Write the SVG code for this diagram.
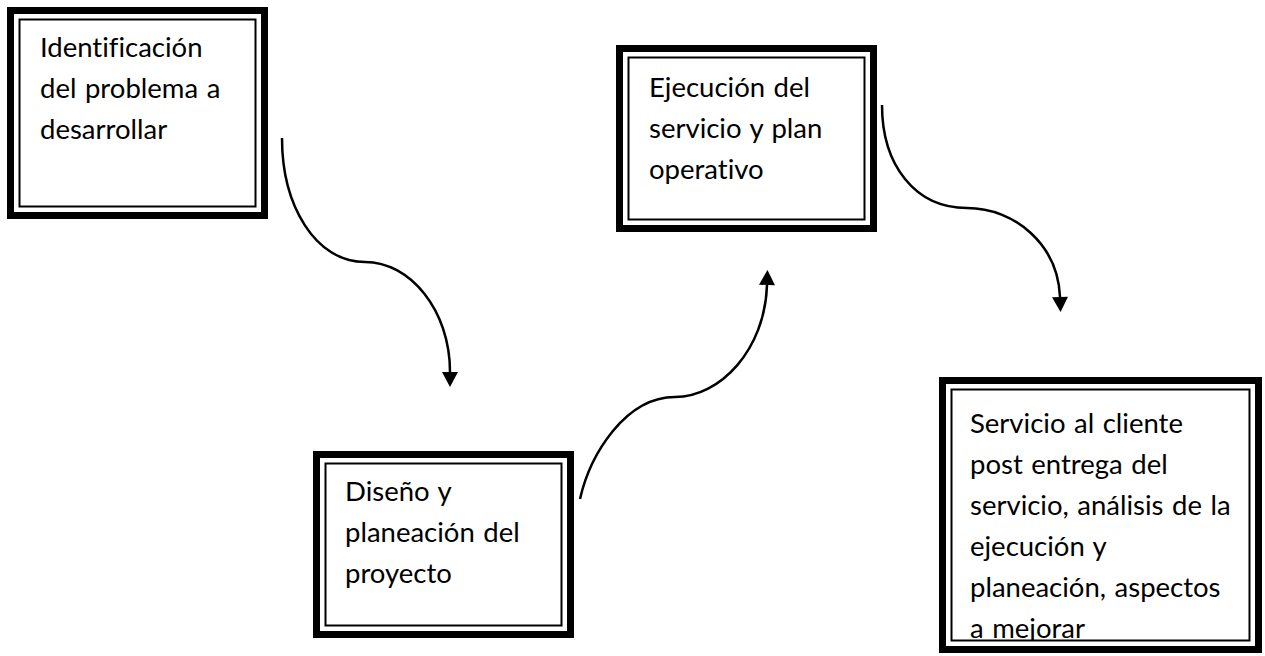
<svg xmlns="http://www.w3.org/2000/svg" width="1265" height="656" viewBox="0 0 1265 656">
<defs>
<style>
.outer{fill:#fff;stroke:#000;stroke-width:7}
.inner{fill:none;stroke:#000;stroke-width:2}
.lbl{font-family:Lato,"Open Sans","Liberation Sans",sans-serif;font-size:27.5px;word-spacing:1.5px;font-variant-ligatures:none;fill:#000}
.conn{fill:none;stroke:#000;stroke-width:2.5}
</style>
<marker id="ah" markerUnits="userSpaceOnUse" markerWidth="16" markerHeight="16" viewBox="0 0 15 16" refX="0" refY="8" orient="auto">
<path d="M0,0 L15,8 L0,16 z" fill="#000"/>
</marker>
<clipPath id="c4"><rect x="952" y="390" width="297" height="250"/></clipPath>
</defs>
<rect width="1265" height="656" fill="#fff"/>
<g id="connectors">
<path class="conn" d="M282,138 C282,205 315,262 365,262 C410,262 450,310 450,372" marker-end="url(#ah)"/>
<path class="conn" d="M580,499 C590,455 625,397 675,397 C720,397 765,350 767,285" marker-end="url(#ah)"/>
<path class="conn" d="M882,105 C882,165 915,208 967,208 C1015,208 1058,245 1060,297" marker-end="url(#ah)"/>
</g>
<g id="node1">
<rect class="outer" x="10.5" y="10.5" width="254" height="205"/>
<rect class="inner" x="19.5" y="19.5" width="236" height="187"/>
<text class="lbl" x="40" y="57">Identificación</text>
<text class="lbl" x="40" y="98">del problema a</text>
<text class="lbl" x="40" y="139">desarrollar</text>
</g>
<g id="node2">
<rect class="outer" x="316.5" y="454.5" width="254" height="180"/>
<rect class="inner" x="325.5" y="463.5" width="236" height="162"/>
<text class="lbl" x="345" y="501">Diseño y</text>
<text class="lbl" x="345" y="542">planeación del</text>
<text class="lbl" x="345" y="583">proyecto</text>
</g>
<g id="node3">
<rect class="outer" x="619.5" y="48.5" width="254" height="180"/>
<rect class="inner" x="628.5" y="57.5" width="236" height="162"/>
<text class="lbl" x="649" y="97">Ejecución del</text>
<text class="lbl" x="649" y="138">servicio y plan</text>
<text class="lbl" x="649" y="179">operativo</text>
</g>
<g id="node4">
<rect class="outer" x="942.5" y="380.5" width="316" height="269"/>
<rect class="inner" x="951.5" y="389.5" width="298" height="251"/>
<g clip-path="url(#c4)">
<text class="lbl" x="970" y="433">Servicio al cliente</text>
<text class="lbl" x="970" y="474">post entrega del</text>
<text class="lbl" x="970" y="515">servicio, análisis de la</text>
<text class="lbl" x="970" y="556">ejecución y</text>
<text class="lbl" x="970" y="597">planeación, aspectos</text>
<text class="lbl" x="970" y="638">a mejorar</text>
</g>
</g>
</svg>
